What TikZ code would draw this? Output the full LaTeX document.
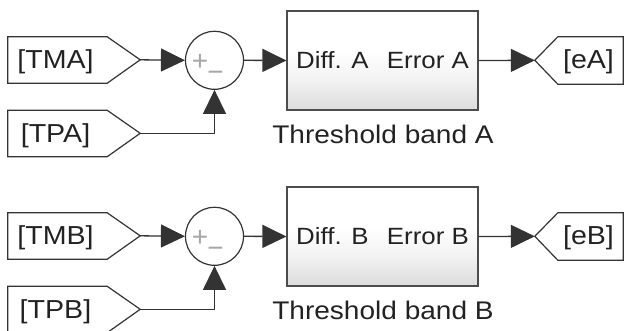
\documentclass[tikz,border=0pt]{standalone}
\usepackage{fontspec}
\setmainfont{Liberation Sans}
\usepackage{graphicx}
\usetikzlibrary{arrows.meta,shadows}
\newcommand{\stretchtxt}[1]{\scalebox{1.1}[1]{#1}}
\pgfdeclareverticalshading{blockshade}{100bp}{color(0bp)=(black!14); color(25bp)=(black!14); color(40bp)=(black!5); color(55bp)=(white); color(100bp)=(white)}
\definecolor{ink}{HTML}{222222}
\definecolor{wire}{HTML}{333333}
\begin{document}
\begin{tikzpicture}[x=1pt,y=-1pt,
  wireline/.style={draw=wire, line width=1.3pt},
  arr/.style={wireline, -{Triangle[length=24pt,width=23pt]}},
  tagtext/.style={inner sep=0pt, font=\fontsize{26}{26}\selectfont, text=ink},
  tagbox/.style={minimum height=46pt, inner sep=0pt},
  outline/.style={draw=wire, line width=1.2pt, line join=miter},
  sumnode/.style={circle, draw=wire, line width=1.2pt, minimum size=58pt, inner sep=0pt, fill=white},
  signtxt/.style={inner sep=0pt, font=\fontsize{28}{28}\selectfont, text=black!35},
  blocknode/.style={rectangle, draw=black!70, line width=1.2pt, minimum width=191pt, minimum height=99pt, inner sep=0pt, shading=blockshade, drop shadow={opacity=0.12, shadow xshift=1.2pt, shadow yshift=-1.2pt}},
  blocktxt/.style={inner sep=0pt, font=\fontsize{23.5}{23.5}\selectfont, text=ink},
  captxt/.style={inner sep=0pt, font=\fontsize{25.5}{25.5}\selectfont, text=ink}]
\useasboundingbox (0,0) rectangle (625,330);

\foreach \r/\L/\dy in {A/A/0, B/B/176}{
  % goto tags
  \node[tagbox, minimum width=99pt] (tm\r) at (57.5,60+\dy) {};
  \node[tagtext, anchor=base] (tm\r txt) at (55.5,68.5+\dy) {\stretchtxt{[TM\L]}};
  \draw[outline] (tm\r.south west) -- (tm\r.north west) -- (tm\r.north east) -- ++(33,23) coordinate (tm\r tip) -- (tm\r.south east) -- cycle;
  \node[tagbox, minimum width=99pt] (tp\r) at (57.5,133.5+\dy) {};
  \node[tagtext, anchor=base] (tp\r txt) at (55.5,142+\dy) {\stretchtxt{[TP\L]}};
  \draw[outline] (tp\r.south west) -- (tp\r.north west) -- (tp\r.north east) -- ++(33,23) coordinate (tp\r tip) -- (tp\r.south east) -- cycle;
  % sum
  \node[sumnode] (sum\r) at (214.5,60.3+\dy) {};
  \node[signtxt] (plus\r) at (200,62+\dy) {+};
  \node[signtxt] (minus\r) at (215.5,76+\dy) {−};
  % block
  \node[blocknode] (blk\r) at (382.5,60.5+\dy) {};
  \node[blocktxt, anchor=base west] (diff\r) at (296,68+\dy) {\stretchtxt{Diff. \L}};
  \node[blocktxt, anchor=base east] (err\r) at (469,68+\dy) {\stretchtxt{Error \L}};
  \node[captxt, anchor=base] (cap\r) at (383,143+\dy) {\stretchtxt{Threshold band \L}};
  % from tag
  \node[tagbox, minimum width=65pt, minimum height=47pt] (e\r) at (590.5,60.5+\dy) {};
  \node[tagtext, anchor=base] (e\r txt) at (588.5,68.5+\dy) {\stretchtxt{[e\L]}};
  \draw[outline] (e\r.south east) -- (e\r.north east) -- (e\r.north west) -- ++(-23,23.5) coordinate (e\r tip) -- (e\r.south west) -- cycle;
  % connectors
  \draw[arr] (tm\r tip) -- (sum\r.west);
  \draw[arr] (tp\r tip) -| (sum\r.south);
  \draw[arr] (sum\r.east) -- (blk\r.west);
  \draw[arr] (blk\r.east) -- (e\r tip);
}
\end{tikzpicture}
\end{document}
